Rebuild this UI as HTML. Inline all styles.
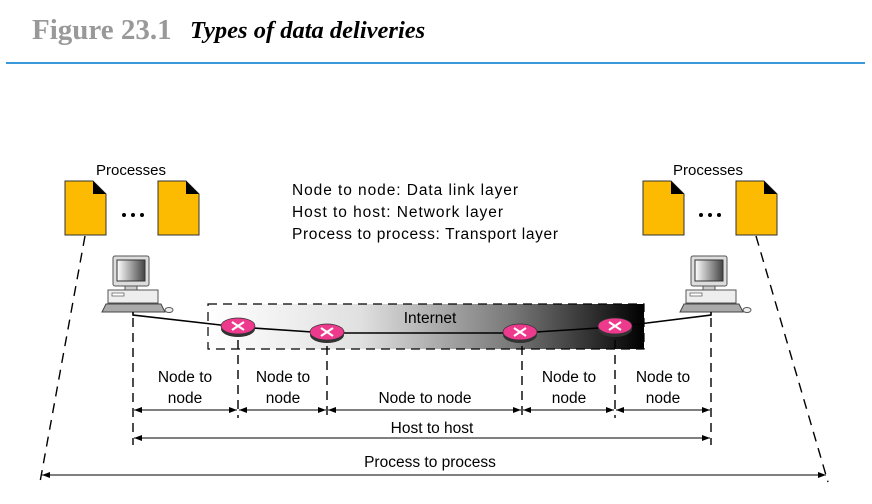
<!DOCTYPE html>
<html><head><meta charset="utf-8"><style>body{margin:0;background:#fff}svg{display:block}</style></head><body>
<svg width="872" height="504" viewBox="0 0 872 504" xmlns="http://www.w3.org/2000/svg" font-family="'Liberation Sans',sans-serif">
<defs>
<linearGradient id="g" x1="0" x2="1"><stop offset="0" stop-color="#fff"/><stop offset="0.35" stop-color="#e0e0e0"/><stop offset="0.7" stop-color="#777"/><stop offset="1" stop-color="#000"/></linearGradient>
<linearGradient id="mg" x1="0" x2="1"><stop offset="0" stop-color="#fff"/><stop offset="1" stop-color="#444"/></linearGradient>
<marker id="a" markerWidth="8" markerHeight="6" refX="8" refY="3" orient="auto-start-reverse"><path d="M0,0L8,3L0,6z" fill="#000"/></marker>
<g id="doc"><path d="M0,0H28L41,13V54H0Z" fill="#fcbb00" stroke="#333" stroke-width="1"/><path d="M28,0L41,13H28Z" fill="#000"/></g>
<g id="pc"><rect x="8" y="0" width="36" height="30" rx="2" fill="#ddd" stroke="#555"/><rect x="12" y="4" width="28" height="21" fill="url(#mg)" stroke="#333"/><rect x="20" y="30" width="12" height="4" fill="#ccc" stroke="#555"/><rect x="3" y="34" width="50" height="13" fill="#eee" stroke="#555"/><rect x="7" y="37" width="12" height="3" fill="#fff" stroke="#555" stroke-width=".7"/><path d="M-3,56L1,48H56L60,56Z" fill="#aaa" stroke="#444"/><ellipse cx="64" cy="54" rx="4" ry="2.5" fill="#eee" stroke="#555"/></g>
<g id="rt"><ellipse cx="0" cy="3" rx="17" ry="8" fill="#333"/><ellipse cx="0" cy="0" rx="17" ry="8" fill="#ee3a8c" stroke="#333" stroke-width=".7"/><path d="M-6,-4L6,4M-6,4L6,-4" stroke="#fff" stroke-width="2.2"/></g>
</defs>
<text x="32" y="39" font-family="'Liberation Serif',serif" font-size="29" font-weight="bold" fill="#999">Figure 23.1</text>
<text x="190" y="38" font-family="'Liberation Serif',serif" font-size="24.5" font-weight="bold" font-style="italic">Types of data deliveries</text>
<line x1="6" y1="63" x2="865" y2="63" stroke="#3a9ad9" stroke-width="2"/>
<text x="96" y="175" font-size="15">Processes</text>
<text x="673" y="175" font-size="15">Processes</text>
<use href="#doc" x="65" y="181"/><use href="#doc" x="158" y="181"/>
<use href="#doc" x="643" y="181"/><use href="#doc" x="736" y="181"/>
<g fill="#000"><circle cx="124" cy="215" r="2"/><circle cx="133" cy="215" r="2"/><circle cx="142" cy="215" r="2"/><circle cx="701" cy="215" r="2"/><circle cx="710" cy="215" r="2"/><circle cx="719" cy="215" r="2"/></g>
<g font-size="15.5" textLength="266"><text x="292" y="195" textLength="226">Node to node: Data link layer</text><text x="292" y="217" textLength="211">Host to host: Network layer</text><text x="292" y="239" textLength="266">Process to process: Transport layer</text></g>
<g stroke="#000" stroke-width="1.4" stroke-dasharray="10,7" fill="none">
<line x1="85" y1="236" x2="40" y2="482"/><line x1="756" y1="236" x2="828" y2="482"/>
</g>
<rect x="208" y="304" width="436" height="45" fill="url(#g)" stroke="#000" stroke-width="1.2" stroke-dasharray="9,6"/>
<text x="430" y="323" font-size="15.5" text-anchor="middle">Internet</text>
<use href="#pc" x="105" y="256"/><use href="#pc" x="683" y="256"/>
<polyline points="133,312 133,315 238,327 327,333 520,333 615,327 711,315 711,312" fill="none" stroke="#000" stroke-width="1.6"/>
<use href="#rt" x="238" y="326"/><use href="#rt" x="327" y="332"/><use href="#rt" x="520" y="332"/><use href="#rt" x="615" y="326"/>
<g stroke="#000" stroke-width="1.4" stroke-dasharray="9,6">
<line x1="133" y1="318" x2="133" y2="445"/><line x1="711" y1="318" x2="711" y2="445"/>
<line x1="238" y1="340" x2="238" y2="418"/><line x1="327" y1="346" x2="327" y2="418"/><line x1="522" y1="346" x2="522" y2="418"/><line x1="615" y1="340" x2="615" y2="418"/>
</g>
<g stroke="#000" stroke-width="1" marker-start="url(#a)" marker-end="url(#a)">
<line x1="134" y1="410" x2="237" y2="410"/><line x1="239" y1="410" x2="326" y2="410"/><line x1="328" y1="410" x2="521" y2="410"/><line x1="523" y1="410" x2="614" y2="410"/><line x1="616" y1="410" x2="710" y2="410"/>
<line x1="134" y1="438" x2="710" y2="438"/><line x1="42" y1="475" x2="826" y2="475"/>
</g>
<g font-size="15.5" text-anchor="middle">
<text x="185" y="382">Node to</text><text x="185" y="403">node</text>
<text x="283" y="382">Node to</text><text x="283" y="403">node</text>
<text x="425" y="403">Node to node</text>
<text x="569" y="382">Node to</text><text x="569" y="403">node</text>
<text x="663" y="382">Node to</text><text x="663" y="403">node</text>
<text x="432" y="433">Host to host</text>
<text x="430" y="467">Process to process</text>
</g>
</svg>
</body></html>
